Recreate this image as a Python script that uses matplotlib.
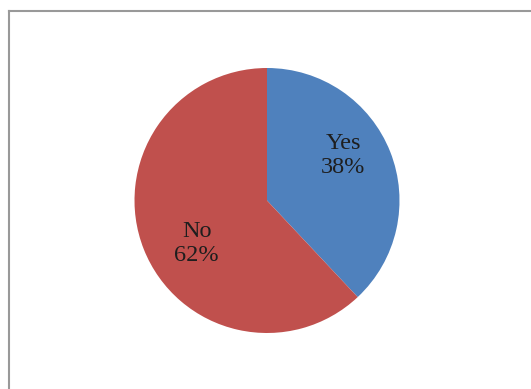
import matplotlib
matplotlib.use("Agg")
import matplotlib.pyplot as plt
from matplotlib.lines import Line2D

labels = ["Yes", "No"]
values = [38, 62]
colors = ["#4F81BD", "#C0504D"]

W, H = 531, 389
fig = plt.figure(figsize=(W / 100, H / 100), dpi=100, facecolor="white")

# border frame (only left and top edges are visible in the crop)
bx, by = 8.5 / W, (H - 10.5) / H
fig.lines.append(Line2D([bx, bx], [-0.05, by], transform=fig.transFigure,
                        color="#999999", linewidth=1.5, solid_capstyle="projecting"))
fig.lines.append(Line2D([bx, 1.05], [by, by], transform=fig.transFigure,
                        color="#999999", linewidth=1.5, solid_capstyle="projecting"))

cx, cy, r = 267, 200.5, 132.5
ax = fig.add_axes([(cx - r) / W, (H - cy - r) / H, 2 * r / W, 2 * r / H])
ax.pie(values, colors=colors, startangle=90, counterclock=False, radius=1,
       wedgeprops=dict(linewidth=0))
ax.set_xlim(-1, 1)
ax.set_ylim(-1, 1)
ax.set_aspect("equal")
ax.axis("off")

label_pos = [(0.575, 0.34), (-0.53, -0.325)]
for lab, v, (x, y) in zip(labels, values, label_pos):
    ax.text(x, y, f"{lab}\n{v}%", ha="center", va="center",
            family="Liberation Serif", fontsize=17.5, color="#1e1e1e",
            linespacing=1.2)

fig.savefig("out.png", dpi=100, facecolor="white")
